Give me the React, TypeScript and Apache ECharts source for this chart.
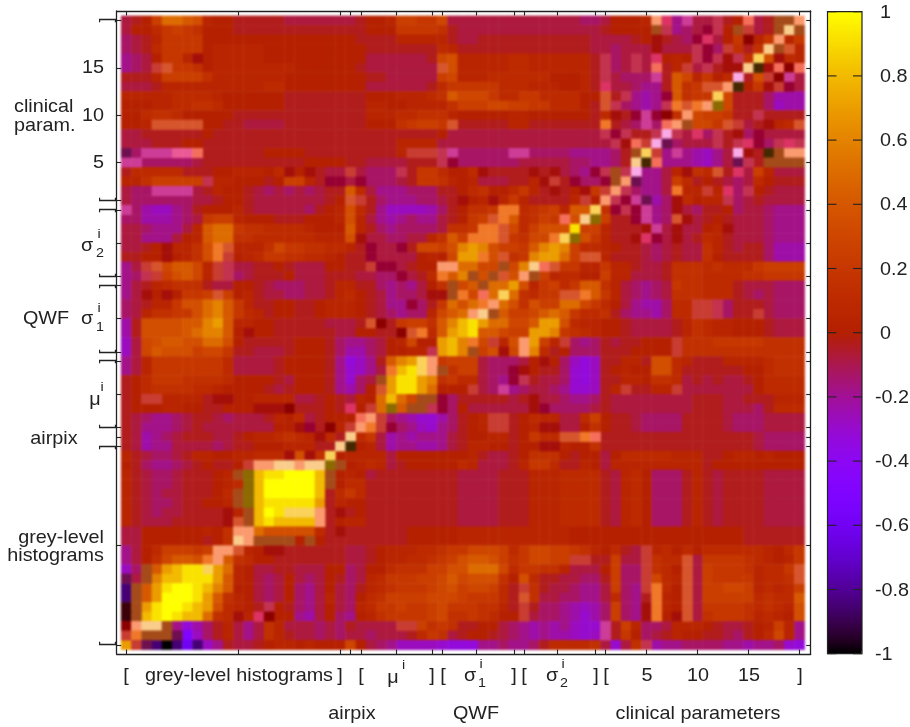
import React, { useEffect, useRef } from "react";
import * as echarts from "echarts";

// Matrix rows, top row first. Upper-case letters are levels on the -1..1 scale,
// lower-case letters are the pale / murky cells that fall outside the colour scale.
const rowsTopDown: string[] = [
"KLMRVVUTNM MLLLLLKKKK KKKLMMNRRQ QSKKKKKKKK KKKKKJJKMM MNbeIfKKpL MaKLjjb",
"KMMOQRQPMM MLLLLLLLLL LLLLMMMQQQ QPLKKKKKKK KKKKKKKLMM MMjpIJKrpM jkKLjcj",
"JKLNQQQQMM MMMMMMMMMM MMMLLLLNNN NNLKKLLLLL LLLLLLKKKK LMlLKJreKM QoNQbNQ",
"JKLOQQQQMN NNNNMMMMMM MMMMLLLLLL LONLLLLLLL LLLLLLKKJK KKlKKKprJk PLPcjsN",
"IJKMQQNlMN NNNNMMMMMM MMMMKKKKKK LSTNNNNNOO NNNNNNLpJK pKeMNMprpl pPnTlON",
"IJKksQQPMN NNNNNNNMMM MMMLKKKKKK KsTNNNNNOO NNNNNNLpJK pKaLNkKpLl lchlaoa",
"LLLNRRRRPN NNNNNNMMMM MMMMLLKKKK KRSNNNOOOO OOMMMNLpKJ JJfLUSNQMO dLTkofK",
"KKKLNNNNNN NNNNOOMMMM MMMMKKKKKK LOQQQQQOOO NNNMMNLeKK JIILUPQssb hMQlkrK",
"NNNNNOOOON MMMMMMLLLL LLLLMMMNNN OPUSSSQOOQ QOOOOMMsLp IHIrUPQQnS LLLJHHH",
"MMMNNOOPPO MMMMMMLLLL LLLLNNMMNN NNPRRRSSRR QQOOOMLspJ IHIpmsmbgS LLLJGHH",
"MMOPPOMMMM MLLLLLLLLL LLLLNNNOOP PPNMMMMMNN MMMMMMLOlL rfroPbSRRQ LLpLLLL",
"MMNsssssMM LLKKKKLLLL LLLLMMMPQR RQsLLLLLNN LLLLLLLmLK JfJabjSSQs kKLlNOs",
"KKLLLLLLML LLLLLLLLLL LLLLLLLLLL LMKKKKKKKK KKKKKKKprp LLpdpKeJpL lJrKKKK",
"KKKLLLMMLL LLLLLLLLLL LLLLLLLNNN NKKKKKKKKK KKKKKKKKpl akdiJKKKpL perJpep",
"iJfffttaLL LLLLMMMMLL LLLLLLLNkk kpfJJJJJff JJJJIIIIJL jnkIfIHGIK dlLhjbb",
"ffJJJJJKLL LLLLLLLLMM MMLLKKKKLL LprJJJJJJK KKKKJJIIJL chaIIIHGIK ipLjjjj",
"LOOOOOLLLM MNNNMOlMlL KKkKJJJpLQ QOMMOlLLLL lLlKJIrpjp dIIKNlPOsL eKRNKKK",
"NNPRRRRRpN NMMMLMRRNL rrKrJJJKLQ QPNMNKKKLL NlkLrJJrjb iIIKROLMLK JKOMLLL",
"KJJffffKLN MMLKJKJKJK LLUOKIIIJJ JLLMOPMMOQ NLlLMlQkbp JIIKmNNkNe JpMLKKK",
"KJJJJJJKKL MMLKKKKKKK LMskLJIIIJ JKLlMNlNQN LLLLNkMbpr fiHJlOMNNp JKLKKKK",
"fJHGGIJLMM MNLKKKKKJL MNTOLIGGGG HJLMPPQmmO PQRNUUnPrp rfIJlKJLLM JKKJIII",
"JJHHHIJKQR RNMMMLLLMM MNTNKIHIJI IKLMQRsmUO PRQaTcgRLL rfIJslKLML KKKJIII",
"KKJIIIKNUV VQPPOOOONM MMUNLJIJJJ JKPPQmmsSO RTTTZRRNLL LlfKlKKMNl KKKJIII",
"KKIIIKMNUV VPPOOOOOON NNTlKKJJKK NPURmmmsQP SSmngTQNLL lerKlKLONL KKKJIII",
"KKLMlNNPTm sNNNPSQQPP OONLrKKrLS SRTWXWTRRQ UWXWROONML LKJKLKKPNL KLLJHHH",
"LLMMlMNPTm kMNOQQPPOO NMLLrKKKKM NMSXXmTsPQ WXXVRssNLL LKJKLKKPML LLLJHHH",
"IKksSUUSNk pKKLLMLKKK MMLLkrrKLM MbbVVSSjSW casQQNNQNN LKKLPPPOPO OOQRRRR",
"IJpkRTUSNk pJKLLLMKKK LLLKKJJrKL OmUWjTjsTb jRNOOMMRNN KKKLPPPOOO OPPQQQQ",
"IKLNOPPPLK KMMLKJJJKK LNNLLJIJIK MPjSUjVVXT NQROQUUPNK JIJKQPPOOO LKKKJJJ",
"IKlMlMQQRs RMNLKKJJKK LNOMLKIJJK lljmSaVnVP OQQssmUQNK JIJKPPPOOO LKJKJJJ",
"JKLNNQTTVW UQNLLMMLLM NNNMLKIIrJ LQVTVmbVTP TRRVVSQOMK IHHJOOkkpJ LLLKJJJ",
"JKNPPQQTVW UQONLMMLLM NNNMLKJIJJ NSUVbcjURR SUVUQOOPLJ IIHJOOkkpJ LLkKJJJ",
"HLTTTTUUWX UNNMMLLLLL KKKLsoLQRR PUWYZXVVSS UXXTONNMML KKKKLNPONN MMMLKKK",
"HLTTTTUVWW UMlMMLLLLL LKKMMLLosm OUXYZUUSRR XXWQPONMML KKKKLNPONN MMMLKKK",
"GKSTUUTTVV TMLLLLLMMM LJIIJKMNSM MXYWmSkNTb XRNkJIJLKL LMMMkPPPQQ QQQPPPP",
"GKSUTTTRSS QLLKKKLMMM LJHHJKMMNN pXYWjRTlSb WOLMJJJLLL MMMMkPPPPP PPPPPPP",
"IKNQQQQQQQ OKKKKLMMMM LIEGILUWXn bQRRRKJJJK MlMJGEGLLN NLTTONLLLN NNNOPPP",
"IKNQQQQQQQ OKKKKLMMMM LIFGIKmYZn bjPRRKJJrl MLLJFEGLMN MMTTOLLLLL LMMOPPP",
"LMOQQQPPPP OMMMMLKMMM LIFJKjXZZX WPQOOKJIrp LKKJFEGLLN NMPPOKLKLK KLMOOOO",
"LMOPPPPOON MMMMLKLMMM LIHJMsXZZX VMMMkKJfIJ KKJIFFGLNk LLNNkKKKKK KKMOOOO",
"LMkkNNNNLl lMMNNNNKKL MLKNMVYVSj jrJLLLLLKL lKKJIIJLKK KKKKKKLLLK KLLLNNN",
"LMMMNNMMLL MMMllloLLL MLeMkVgUjj prJMKKKKKK lrJJJJKLKK KKKKKKLLLK KKJLOOO",
"LKJIIJKLLK JKKKLNMOKL MMMabkJIHF FHJLMNkkLM ONNKKORMLL KJJJJLLLLK JJJKKKK",
"LKIIIJKLKK KKKKKMMlrL oNkbmkrJIG FIJLMNkkLM NllKKMPMLL KJJJJLLLLK JJJKKKK",
"LKHIJKLLLK KLMNNOPONl OLcOQKHIHI IIKLMMNNLM QOOssmaLLL LLLLLLLLLL LLKJJJJ",
"LKHIIKKKKJ KLLMMMNNNL LchMNKHIIH HIKLNNMMLM MllNMMPLLL LLLLLLLLLL LLKJJJJ",
"NLKJJKLNNM MNNOOOlTlP nMNNNNKMMM MMMMNLKKLM PPPMLMMKMO OOOONNNLLM NNMNMMM",
"MLJIIJKLML LMkbbccbcc gjMNONKLMM MMMONKKKLN QQOLLNMKNN NNNNNNNLMM MMMMMMM",
"NLKJJKLLLM NjgYZZ@@@Y jMNMKLLLLL LLLKKKKLLL NNNOOOOLKN OMJJJLNLKL LLLKKKK",
"NLKJJKLLLM NOgY@@@@@Y jMOOLLLLLL LLLKKKKLLL NNNOOOOLKN OMJJJLNLKL LLLKKKK",
"NLKJKKLLLM OjgY@@@@@Y LOQOLLLLLL LLLKKKKLLL NNNOOOOLKN OMJJJLNLKL LLLKKKK",
"NLKJJKLLMM NjgYZZZZZX LNMMLLLLLL LLLKKKKLLL NNNOOOOLKN OMJJJLNLKL LLLKKKK",
"NLKJKKLLLL lNjY@Znnnb LlLMLLLLLL LLLKKKKLLL NNNOOOOLKN OMJJJLNLKL LLLKKKK",
"NLKKKLLLLL lsjYZYYYYb LMNNLLLLLL LLLKKKKLLL NNNOOOOLKN OMJJJLNLKL LLLKKKK",
"KKMMMMMMNM PbbVTTTTTO LlLLLLLLMM MMMNNNNNNN NNNNMMMMMM MMMMMMMMMM MLLLLLL",
"KKMMMMMMLM PcbjjjjMjM LLLLLLLLMM MMMNNNNNNN NNNNMMMMMM MMMMMMMMMM MLLLLLL",
"IKMORRRQRb bsNMllLLLL LLKKLMNNNO OPQQSSSROQ SSRRQPNMOL KkNOMOMOOO OOONMOQ",
"IKMPSUUTmb UPOMMLLLLL LLKKLMNNOO PQRTUUTRPQ SSRRkkLLRK KkPOOsKQQQ QPONMNQ",
"GJjUXYZZnX VNMKKLLKKK MMJKMMOPPP RRTTVVVSOQ QPPNKKKMRJ JkPOMsKRQQ QPNOOQs",
"iKjWYYZZZX UNMKJKMKJK MLJKNOQQQR RSUSTTTPMT OLLKKJJLRJ JkSONsKRQQ QQNOOPs",
"BjUXZ@@ZYW UMMKJKMJIK MKJLNOPQQQ RSTRSSROLk PLKKJIIKRJ IkmOMsKRRS SRNONOR",
"BjUX@@@ZXU PNMKJKMJIK NKJMOPRRRR SSSRQQQOLs PKKJJIIKOJ ILmNMsKRRR RROPOOU",
"ujXZ@@ZYXT ONMLpMLJIK MKJNOQQRQQ RSQQQPPNLk LJJIHGHJRJ IlmNMsKQQQ QPOPONT",
"ujYZ@ZYYVP OlNeoMMIHK MJIMNPQQQQ RSPPQPOMMk KJJIHFHJRJ IlmMlsKPQQ QPNONMT",
"obccjIEHJL NKIKPNKKKJ KJLKKKKkkR PQPLLMMKJI HIHIGFFfLR NJJKNNNMLK KLMNRNI",
"kmjjjiDGJL NKIKPNLKKJ KJKKJKKKLO QPKLMMLKJI HIHHGFGfLQ MJKLNMMLLK JLMOSNI",
"XkiBABCBGI LKKLMNNMNM MMSMKJIGGG GFEEEIIJII JLOOOOPKFK PpHIIJJJJI IHIIJFE",
];

const levelValues: Record<string, number> = {
  A: -1, B: -0.85, C: -0.6, D: -0.5, E: -0.33, F: -0.3, G: -0.27, H: -0.23, I: -0.18, J: -0.13,
  K: -0.08, L: -0.035, M: 0.01, N: 0.05, O: 0.1, P: 0.15, Q: 0.2, R: 0.25, S: 0.3, T: 0.35,
  U: 0.41, V: 0.5, W: 0.6, X: 0.7, Y: 0.8, Z: 0.92, "@": 1,
};
const offScaleKeys = "abcdefghijklmnoprstu";
const offScaleColors = [
  "#f56e5a", "#fa9a6e", "#facd8c", "#faaae6", "#dc3264", "#cd3c96",
  "#8c6a00", "#462800", "#6e0f50", "#a54b19", "#c83c32", "#a50f0a",
  "#f07828", "#fad25a", "#8c0000", "#c3324f", "#960032", "#d7552d",
  "#eb5a96", "#3c000a",
];

const tickIndexX = [0, 11, 21, 22, 23, 26.5, 30, 31, 34.3, 38, 39, 42.3, 46, 47, 51, 56, 61, 66];
const tickIndexY = [0, 10.5, 21, 22, 23, 26.5, 30, 31, 34.5, 38, 39, 42.5, 46, 47, 51, 56, 61, 66];
const colorbarTicks = [-1, -0.8, -0.6, -0.4, -0.2, 0, 0.2, 0.4, 0.6, 0.8, 1];
const colorbarLabels = ["-1", "-0.8", "-0.6", "-0.4", "-0.2", "0", "0.2", "0.4", "0.6", "0.8", "1"];

const INK = "#222";
const FONT = '18px "Liberation Sans", Arial, sans-serif';
const SMALL = '13px "Liberation Sans", Arial, sans-serif';

function mapColor(v: number): string {
  const x = (v + 1) / 2;
  const r = Math.sqrt(x);
  const g = x * x * x;
  const b = Math.max(0, Math.sin(2 * Math.PI * x));
  return `rgb(${Math.round(r * 255)},${Math.round(g * 255)},${Math.round(b * 255)})`;
}

function label(text: string, x: number, y: number, align = "center", font = FONT, extra: any = {}) {
  return {
    type: "text", x, y, scaleX: 1.1, silent: true, ...extra,
    style: { text, x: 0, y: 0, font, fill: INK, align, verticalAlign: "middle" },
  };
}

const layer: React.CSSProperties = { position: "absolute", left: 0, top: 0, width: 910, height: 727 };

export default function App() {
  const heatRef = useRef<HTMLDivElement>(null);
  const overRef = useRef<HTMLDivElement>(null);
  useEffect(() => {
    const heat = echarts.init(heatRef.current!, undefined, { renderer: "svg", width: 910, height: 727 });
    const over = echarts.init(overRef.current!, undefined, { renderer: "svg", width: 910, height: 727 });
    const rows = rowsTopDown.map((s) => s.replace(/ /g, ""));
    const n = rows.length;
    const cats = Array.from({ length: 67 }, (_, i) => String(i));
    const main: any[] = [];
    const extra: any[] = [];
    rows.forEach((s, i) => {
      const r = n - 1 - i;
      [...s].forEach((ch, c) => {
        if (ch in levelValues) main.push([c, r, levelValues[ch]]);
        else extra.push([c, r, offScaleKeys.indexOf(ch)]);
      });
    });
    const ramp = Array.from({ length: 41 }, (_, i) => mapColor(-1 + i * 0.05));

    heat.setOption({
      animation: false,
      grid: { left: 121.2, top: 15.9, width: 683.4, height: 633.8 },
      xAxis: { type: "category", data: cats, show: false },
      yAxis: { type: "category", data: cats, show: false },
      visualMap: [
        { type: "continuous", show: false, min: -1, max: 1, dimension: 2, seriesIndex: 0, inRange: { color: ramp } },
        { type: "piecewise", show: false, dimension: 2, seriesIndex: 1, pieces: offScaleColors.map((color, i) => ({ value: i, color })) },
      ],
      series: [
        { type: "heatmap", data: main, progressive: 0, emphasis: { disabled: true } },
        { type: "heatmap", data: extra, progressive: 0, emphasis: { disabled: true } },
      ],
    });

    const graphicEls: any[] = [];
    const barY = (v: number) => 11.7 + ((1 - v) / 2) * 642;
    graphicEls.push({ type: "rect", shape: { x: 827.5, y: 11.7, width: 34.5, height: 642 }, style: { fill: "none", stroke: INK, lineWidth: 1.2 }, z: 50 });
    colorbarTicks.forEach((v, i) => {
      const y = barY(v);
      graphicEls.push({ type: "line", shape: { x1: 827.5, y1: y, x2: 836.5, y2: y }, style: { stroke: INK, lineWidth: 1.1 }, z: 50 });
      graphicEls.push({ type: "line", shape: { x1: 853, y1: y, x2: 862, y2: y }, style: { stroke: INK, lineWidth: 1.1 }, z: 50 });
      graphicEls.push(label(colorbarLabels[i], v < 0 ? 875 : 880, y, "left"));
    });
    const bottomY = 675;
    [["[", 126], ["grey-level histograms", 239], ["]", 340], ["[", 361], ["]", 432], ["[", 443], ["]", 514], ["[", 524], ["]", 596], ["[", 606], ["5", 647], ["10", 698], ["15", 749], ["]", 800]].forEach(([t, x]) => {
      graphicEls.push(label(t as string, x as number, bottomY));
    });
    graphicEls.push(label("μ", 393, 677), label("i", 403.5, 665, "center", SMALL));
    graphicEls.push(label("σ", 470, 675), label("i", 481, 664, "center", SMALL), label("1", 482, 683, "center", SMALL));
    graphicEls.push(label("σ", 552, 675), label("i", 563, 664, "center", SMALL), label("2", 564, 683, "center", SMALL));
    graphicEls.push(label("airpix", 352, 713), label("QWF", 476, 713), label("clinical parameters", 698, 713));
    [["15", 67], ["10", 115], ["5", 162]].forEach(([t, y]) => graphicEls.push(label(t as string, 104, y as number, "right")));
    graphicEls.push(label("clinical", 14, 106, "left"), label("param.", 14, 125, "left"));
    graphicEls.push(label("σ", 87, 245), label("i", 99, 234, "center", SMALL), label("2", 100, 253, "center", SMALL));
    graphicEls.push(label("QWF", 46, 318), label("σ", 87, 318), label("i", 99, 308, "center", SMALL), label("1", 100, 327, "center", SMALL));
    graphicEls.push(label("μ", 95, 399), label("i", 102, 387, "center", SMALL));
    graphicEls.push(label("airpix", 54, 438));
    graphicEls.push(label("grey-level", 104, 537, "right"), label("histograms", 104, 555, "right"));
    [["]", 20], ["[", 200], ["]", 210], ["[", 276], ["]", 286], ["[", 352], ["]", 361], ["[", 427], ["]", 447], ["[", 644]].forEach(([t, y]) => {
      graphicEls.push(label(t as string, 106, y as number, "center", FONT, { rotation: Math.PI / 2, scaleX: 1 }));
    });

    const frameAxis = (position: string, min: number, max: number, ticks: number[]) => ({
      type: "value", position, min, max,
      axisLine: { show: true, onZero: false, lineStyle: { color: INK, width: 1.3 } },
      axisTick: { show: true, inside: true, length: 4.5, customValues: ticks, lineStyle: { color: INK, width: 1.1 } },
      axisLabel: { show: false },
      splitLine: { show: false },
    });

    over.setOption({
      animation: false,
      grid: { left: 116.7, top: 11, width: 694, height: 643 },
      xAxis: [frameAxis("bottom", -0.94, 67.1, tickIndexX), frameAxis("top", -0.94, 67.1, tickIndexX)],
      yAxis: [frameAxis("left", -0.95, 67.02, tickIndexY), frameAxis("right", -0.95, 67.02, tickIndexY)],
      visualMap: {
        type: "continuous", min: -1, max: 1, dimension: 2, seriesIndex: [], calculable: false,
        left: 827.5, top: 11.7, itemWidth: 34.5, itemHeight: 642, padding: 0, text: ["", ""], showLabel: false,
        hoverLink: false, inRange: { color: ramp }, textStyle: { fontSize: 0 },
      },
      series: [],
      graphic: { elements: graphicEls },
    });
    return () => {
      heat.dispose();
      over.dispose();
    };
  }, []);
  return (
    <div style={layer}>
      <div ref={heatRef} style={{ ...layer, filter: "blur(1.3px)" }} />
      <div ref={overRef} style={{ ...layer, filter: "blur(0.35px)" }} />
    </div>
  );
}
